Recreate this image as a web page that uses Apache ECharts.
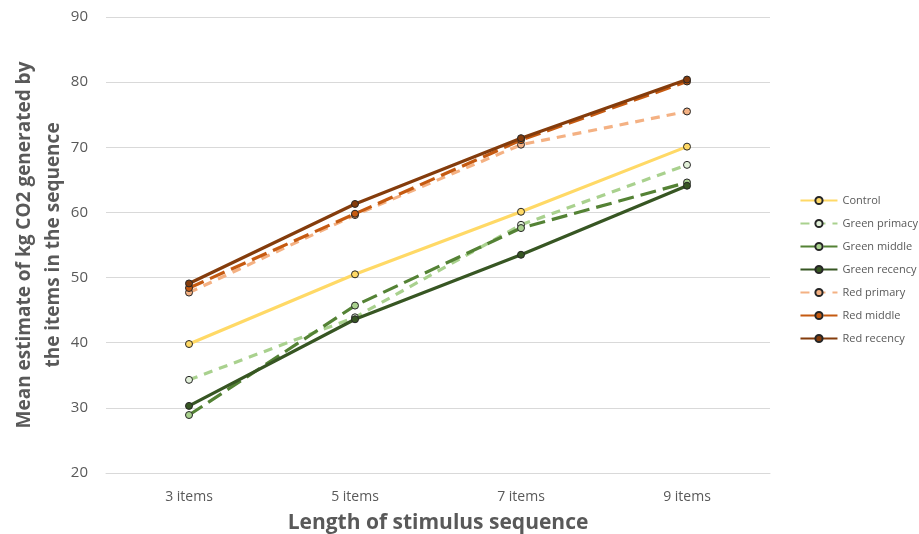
<!DOCTYPE html>
<html>
<head>
<meta charset="utf-8">
<script src="https://cdn.jsdelivr.net/npm/echarts@6/dist/echarts.min.js"></script>
<style>html,body{margin:0;padding:0;background:#fff}#c{width:919px;height:534px}</style>
</head>
<body>
<div id="c"></div>
<script>
const categories = ['3 items', '5 items', '7 items', '9 items'];
const control = [39.8, 50.5, 60.1, 70.1];
const greenPrimary = [34.3, 43.9, 58.1, 67.3];
const greenMiddle = [28.9, 45.7, 57.6, 64.6];
const greenRecency = [30.3, 43.6, 53.5, 64.1];
const redPrimary = [47.7, 59.6, 70.4, 75.5];
const redMiddle = [48.4, 59.8, 71.1, 80.1];
const redRecency = [49.1, 61.3, 71.4, 80.4];
const yTicks = [20, 30, 40, 50, 60, 70, 80, 90];

const font = 'Open Sans';
function mk(name, data, color, fill, dash, z) {
  return {
    name, type: 'line', data, z,
    symbol: 'circle', symbolSize: 7,
    lineStyle: { color, width: 3.2, type: dash, cap: 'butt' },
    itemStyle: { color: fill, borderColor: '#262626', borderWidth: 1 },
    emphasis: { disabled: true }
  };
}
const chart = echarts.init(document.getElementById('c'));
chart.setOption({
  animation: false,
  backgroundColor: '#fff',
  grid: { left: 106, right: 149, top: 17, bottom: 61, outerBoundsMode: 'none', containLabel: false },
  legend: {
    orient: 'vertical', right: -4, top: 190, itemGap: 12,
    itemWidth: 37, itemHeight: 9,
    textStyle: { fontFamily: font, fontSize: 11, color: '#595959' },
    data: ['Control', 'Green primacy', 'Green middle', 'Green recency', 'Red primary', 'Red middle', 'Red recency']
  },
  xAxis: {
    type: 'category', data: categories, boundaryGap: true,
    axisLine: { lineStyle: { color: '#d9d9d9', width: 1 } },
    axisTick: { show: false },
    axisLabel: { fontFamily: font, fontSize: 14, color: '#595959', margin: 17 },
    name: 'Length of stimulus sequence', nameLocation: 'middle', nameGap: 40,
    nameTextStyle: { fontFamily: font, fontSize: 21, fontWeight: 'bold', color: '#595959' }
  },
  yAxis: {
    type: 'value', min: 20, max: 90, interval: 10,
    axisLine: { show: false }, axisTick: { show: false },
    splitLine: { lineStyle: { color: '#d9d9d9', width: 1 } },
    axisLabel: { fontFamily: font, fontSize: 15, color: '#595959', margin: 18,
      formatter: v => yTicks.includes(v) ? String(v) : '' },
    name: 'Mean estimate of kg CO2 generated by\nthe items in the sequence',
    nameLocation: 'middle', nameGap: 38, nameMoveOverlap: false,
    nameTextStyle: { fontFamily: font, fontSize: 19, fontWeight: 'bold', color: '#595959', lineHeight: 29 }
  },
  series: [
    mk('Control', control, '#FFD966', '#FFD966', 'solid', 3),
    mk('Green primacy', greenPrimary, '#A9D18E', '#E2F0D9', [9, 7], 3),
    mk('Green middle', greenMiddle, '#548235', '#A9D18E', [16, 7], 4),
    mk('Green recency', greenRecency, '#375623', '#375623', 'solid', 5),
    mk('Red primary', redPrimary, '#F4B183', '#F4B183', [9, 7], 3),
    mk('Red middle', redMiddle, '#C55A11', '#C55A11', [16, 7], 4),
    mk('Red recency', redRecency, '#843C0C', '#843C0C', 'solid', 5)
  ]
});
</script>
</body>
</html>
